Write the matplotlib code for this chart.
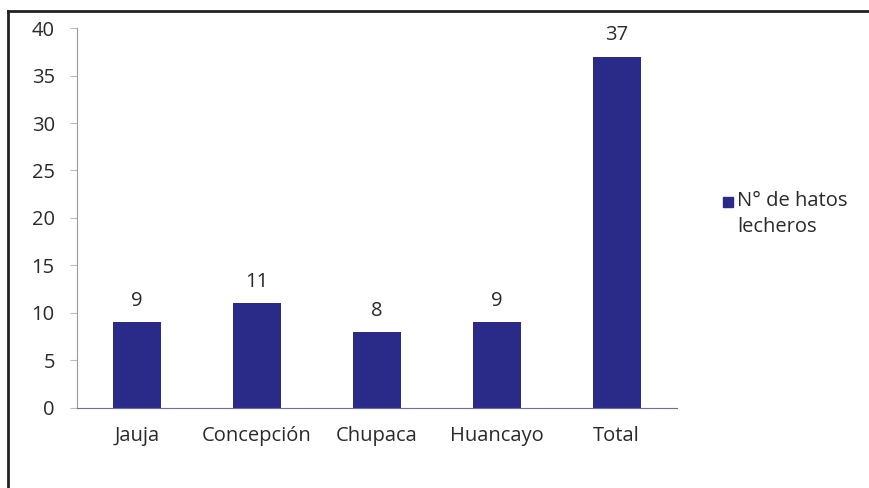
import matplotlib.pyplot as plt
from matplotlib.lines import Line2D
from matplotlib.patches import Rectangle

plt.rcParams['font.family'] = ['Open Sans', 'DejaVu Sans']

provincias = ["Jauja", "Concepción", "Chupaca", "Huancayo", "Total"]
hatos = [9, 11, 8, 9, 37]
serie = "N° de hatos\nlecheros"
yticks = [0, 5, 10, 15, 20, 25, 30, 35, 40]

bar_color = "#2a2b88"
text_color = "#2a2a2a"
fs = 14.5

fig = plt.figure(figsize=(8.69, 4.88), dpi=100)
ax = fig.add_axes([0.0886, 0.164, 0.690, 0.7786])

x = range(len(provincias))
bars = ax.bar(x, hatos, width=0.4, color=bar_color)
for b, v in zip(bars, hatos):
    ax.annotate(str(v), (b.get_x() + b.get_width() / 2, v), xytext=(0, 8),
                textcoords="offset points", ha="center", va="bottom",
                fontsize=fs, color=text_color)

ax.set_xlim(-0.5, len(provincias) - 0.5)
ax.set_ylim(0, 40)
ax.set_yticks(yticks)
ax.set_xticks(list(x))
ax.set_xticklabels(provincias)
ax.tick_params(axis="y", length=5, color="#bbbbbb", labelsize=fs,
               labelcolor=text_color, pad=11)
ax.tick_params(axis="x", length=0, labelsize=fs, labelcolor=text_color, pad=13)
for s in ["top", "right"]:
    ax.spines[s].set_visible(False)
ax.spines["left"].set_color("#999999")
ax.spines["bottom"].set_color("#6b6d9c")

# legend drawn by hand: square beside the first line of the label
fig.add_artist(Rectangle((723 / 869, 1 - 207 / 488), 10 / 869, 10 / 488,
                         color=bar_color, transform=fig.transFigure))
fig.text(737 / 869, 1 - 201 / 488, serie.split("\n")[0], fontsize=fs,
         color=text_color, va="center", ha="left")
fig.text(737 / 869, 1 - 227 / 488, serie.split("\n")[1], fontsize=fs,
         color=text_color, va="center", ha="left")

# outer frame (left and top edges only visible)
fig.add_artist(Line2D([8 / 869, 8 / 869], [0, 1 - 11 / 488], color="#222222", lw=2,
                      transform=fig.transFigure))
fig.add_artist(Line2D([8 / 869, 1], [1 - 11 / 488, 1 - 11 / 488], color="#222222", lw=2,
                      transform=fig.transFigure))

fig.savefig("out.png", dpi=100)
